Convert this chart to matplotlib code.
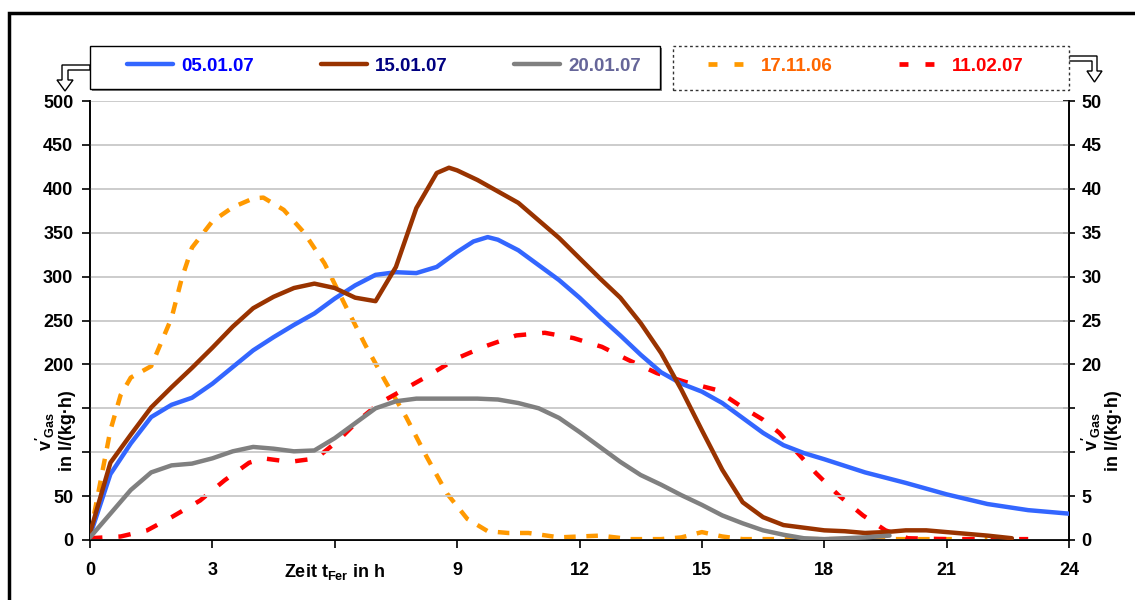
import matplotlib
matplotlib.use("Agg")
import matplotlib.pyplot as plt
from matplotlib.lines import Line2D
from matplotlib.patches import Polygon, Rectangle

plt.rcParams['font.family'] = ['Liberation Sans', 'DejaVu Sans']
plt.rcParams['font.weight'] = 'bold'
plt.rcParams['mathtext.fontset'] = 'custom'
plt.rcParams['mathtext.rm'] = 'Liberation Sans:bold'
plt.rcParams['mathtext.bf'] = 'Liberation Sans:bold'
plt.rcParams['mathtext.it'] = 'Liberation Sans:bold'
plt.rcParams['mathtext.default'] = 'bf'

# ---------------- data ----------------
# left axis series (l/(kg h))
t_0501 = [0, 0.5, 1, 1.5, 2, 2.5, 3, 3.5, 4, 4.5, 5, 5.5, 6, 6.5, 7, 7.5, 8, 8.5, 9, 9.4, 9.75,
          10, 10.5, 11, 11.5, 12, 12.5, 13, 13.5, 14, 14.5, 15, 15.5, 16, 16.5, 17, 17.5,
          18, 19, 20, 21, 22, 23, 24]
v_0501 = [5, 75, 110, 140, 154, 162, 178, 197, 216, 231, 245, 258, 275, 290, 302, 305, 304, 311, 328, 340, 345,
          342, 330, 313, 296, 276, 254, 233, 211, 191, 178, 169, 156, 139, 122, 108, 99,
          92, 77, 65, 52, 41, 34, 30]

t_1501 = [0, 0.5, 1, 1.5, 2, 2.5, 3, 3.5, 4, 4.5, 5, 5.5, 6, 6.5, 7, 7.5, 8, 8.5, 8.8,
          9, 9.5, 10, 10.5, 11, 11.5, 12, 12.5, 13, 13.5, 14, 14.5, 15, 15.5, 16, 16.5, 17, 17.5,
          18, 18.5, 19, 19.5, 20, 20.5, 21, 21.5, 22, 22.6]
v_1501 = [8, 88, 120, 151, 174, 196, 219, 243, 264, 277, 287, 292, 287, 276, 272, 311, 378, 418, 424,
          421, 410, 397, 384, 364, 344, 321, 298, 276, 247, 213, 171, 125, 80, 43, 26, 17, 14,
          11, 10, 8, 9, 11, 11, 9, 7, 5, 2]

t_2001 = [0, 0.5, 1, 1.5, 2, 2.5, 3, 3.5, 4, 4.5, 5, 5.5, 6, 6.5, 7, 7.5, 8, 8.5, 9, 9.5,
          10, 10.5, 11, 11.5, 12, 12.5, 13, 13.5, 14, 14.5, 15, 15.5, 16, 16.5, 17, 17.5,
          18, 18.5, 19, 19.6]
v_2001 = [3, 30, 57, 77, 85, 87, 93, 101, 106, 104, 101, 102, 116, 133, 150, 158, 161, 161, 161, 161,
          160, 156, 150, 139, 123, 106, 89, 74, 63, 51, 40, 28, 19, 11, 6, 2,
          1, 2, 3, 5]

# right axis series (0..50 scale)
t_1711 = [0, 0.25, 0.5, 0.75, 1, 1.5, 2, 2.25, 2.5, 3, 3.5, 4, 4.25, 4.75, 5.25, 5.75, 6.25, 6.75,
          7.25, 7.75, 8.25, 8.75, 9.25, 9.75, 10.25, 10.75, 11.5, 12.5, 13.25, 14, 14.5, 15, 15.5,
          16, 17, 18, 19, 20, 21, 22]
r_1711 = [0.5, 6.5, 12.5, 16.5, 18.5, 19.8, 25.3, 29.8, 33.3, 36.3, 37.9, 38.9, 39.0, 37.6, 35.0, 31.5,
          26.8, 22.2, 18.0, 14.0, 9.5, 5.3, 2.4, 1.0, 0.8, 0.8, 0.3, 0.5, 0.1, 0.1, 0.3, 0.9, 0.4,
          0.1, 0.1, 0.1, 0.1, 0.1, 0.1, 0.1]

t_1102 = [0, 0.75, 1.4, 2, 2.7, 3.3, 3.9, 4.25, 4.9, 5.55, 6.1, 6.6, 7.1, 7.6, 8.25, 9, 9.65, 10.45,
          11.15, 11.85, 12.55, 13.2, 13.9, 14.6, 15.35, 16, 16.5, 16.9, 17.35, 17.8, 18.35, 18.95,
          19.5, 20.05, 21, 22, 23]
r_1102 = [0.2, 0.4, 1.1, 2.6, 4.5, 6.8, 8.8, 9.3, 8.9, 9.3, 11.4, 13.7, 15.6, 16.9, 18.6, 20.7, 22.0, 23.3,
          23.6, 23.0, 22.0, 20.5, 19.0, 18.0, 17.1, 15.1, 13.7, 12.2, 9.9, 7.6, 5.1, 2.8,
          1.1, 0.2, 0.1, 0.1, 0.1]

labels = ['05.01.07', '15.01.07', '20.01.07', '17.11.06', '11.02.07']
line_colors = ['#3366ff', '#993300', '#808080', '#ff9900', '#ff0000']
text_colors = ['#0000ff', '#000080', '#666699', '#ff6600', '#ff0000']

x_ticks = [0, 3, 6, 9, 12, 15, 18, 21, 24]
x_ticklabels = ['0', '3', r'Zeit $t_{Fer}$ in h', '9', '12', '15', '18', '21', '24']
y_ticks = list(range(0, 501, 50))
y_ticklabels = ['0', '50', '', '', '200', '250', '300', '350', '400', '450', '500']
y2_ticks = list(range(0, 51, 5))
y2_ticklabels = ['0', '5', '', '', '20', '25', '30', '35', '40', '45', '50']

# ---------------- figure ----------------
W, H = 1135, 600
fig = plt.figure(figsize=(W / 100, H / 100), dpi=100)
ax = fig.add_axes([90 / W, 1 - 540 / H, (1069 - 90) / W, (540 - 101) / H])
ax2 = ax.twinx()

lw = 3.2
l1, = ax.plot(t_0501, v_0501, color=line_colors[0], lw=lw, solid_capstyle='round', zorder=3)
l2, = ax.plot(t_1501, v_1501, color=line_colors[1], lw=lw, solid_capstyle='round', zorder=3)
l3, = ax.plot(t_2001, v_2001, color=line_colors[2], lw=lw, solid_capstyle='round', zorder=3)
l4, = ax2.plot(t_1711, r_1711, color=line_colors[3], lw=lw, dashes=(2.6, 2.4), zorder=3)
l5, = ax2.plot(t_1102, r_1102, color=line_colors[4], lw=lw, dashes=(2.8, 3.6), zorder=3)

ax.set_xlim(0, 24)
ax.set_ylim(0, 500)
ax2.set_ylim(0, 50)
ax.set_xticks(x_ticks)
ax.set_xticklabels(x_ticklabels)
ax.set_yticks(y_ticks)
ax.set_yticklabels(y_ticklabels)
ax2.set_yticks(y2_ticks)
ax2.set_yticklabels(y2_ticklabels)

ax.grid(axis='y', color='#c8c8c8', lw=1.3)
ax.set_axisbelow(True)
for a in (ax, ax2):
    a.spines['top'].set_visible(False)
    for s in ('left', 'right', 'bottom'):
        a.spines[s].set_linewidth(1.2)
ax.tick_params(axis='both', labelsize=13, width=1.2, length=6, direction='out', pad=6)
ax.tick_params(axis='x', pad=10)
ax2.tick_params(axis='y', labelsize=13, width=1.2, length=8, direction='inout', pad=5)
ax.set_zorder(ax2.get_zorder() + 1)
ax.patch.set_visible(False)
for lab in ax.get_xticklabels() + ax.get_yticklabels() + ax2.get_yticklabels():
    lab.set_fontweight('bold')

# axis titles
ylab = "$v'_{Gas}$\nin l/(kg·h)"
fig.text(55 / W, 1 - 431 / H, ylab, rotation=90, ha='center', va='center',
         fontsize=13, fontweight='bold', multialignment='center', linespacing=1.15)
fig.text(1101 / W, 1 - 431 / H, ylab, rotation=90, ha='center', va='center',
         fontsize=13, fontweight='bold', multialignment='center', linespacing=1.15)

# legend frames (left solid with shadow, right dotted)
fig.patches.append(Rectangle((92, H - 91), 570, 43, facecolor='#808080', edgecolor='none',
                             transform=None, figure=fig, zorder=1))
fig.patches.append(Rectangle((90, H - 89), 570, 43, facecolor='white', edgecolor='black',
                             lw=1.0, transform=None, figure=fig, zorder=2))
fig.patches.append(Rectangle((673, H - 89.5), 396, 43.5, facecolor='white', edgecolor='#333333',
                             lw=1.0, linestyle=(0, (2, 2)), transform=None, figure=fig, zorder=2))

fs_leg = 13.5
leg1 = fig.legend([l1, l2, l3], labels[:3], ncol=3, loc='center left',
                  bbox_to_anchor=(127 / W, 1 - 66 / H), borderaxespad=0, borderpad=0,
                  fontsize=fs_leg, handlelength=2.45, handletextpad=0.45,
                  columnspacing=3.55, frameon=False)
for txt, c in zip(leg1.get_texts(), text_colors[:3]):
    txt.set_color(c)
    txt.set_fontweight('bold')
leg1.set_zorder(5)

h4 = Line2D([], [], color=line_colors[3], lw=3.4, dashes=(1.9, 3.6), dash_capstyle='butt')
h5 = Line2D([], [], color=line_colors[4], lw=3.4, dashes=(1.9, 3.6), dash_capstyle='butt')
leg2 = fig.legend([h4, h5], labels[3:], ncol=2, loc='center left',
                  bbox_to_anchor=(708 / W, 1 - 66 / H), borderaxespad=0, borderpad=0,
                  fontsize=fs_leg, handlelength=1.87, handletextpad=0.95,
                  columnspacing=3.55, frameon=False)
for txt, c in zip(leg2.get_texts(), text_colors[3:]):
    txt.set_color(c)
    txt.set_fontweight('bold')
leg2.set_zorder(5)

# hollow arrows indicating axes
def px(points):
    return [(x, H - y) for x, y in points]

left_arrow = px([(90, 65), (62, 65), (62, 80), (57, 80), (65, 91), (73, 80), (68, 80), (68, 70), (90, 70)])
right_arrow = px([(1069, 56), (1097, 56), (1097, 71), (1102, 71), (1094.5, 82), (1087, 71), (1092, 71), (1092, 61), (1069, 61)])
for pts in (left_arrow, right_arrow):
    fig.patches.append(Polygon(pts, closed=True, facecolor='white', edgecolor='black',
                               lw=1.0, transform=None, figure=fig))

# outer frame
fig.patches.append(Rectangle((8.5, -20), W + 20, H - 12.5 + 20, fill=False, edgecolor='black',
                             lw=2.5, transform=None, figure=fig))

fig.savefig('out.png', dpi=100)
